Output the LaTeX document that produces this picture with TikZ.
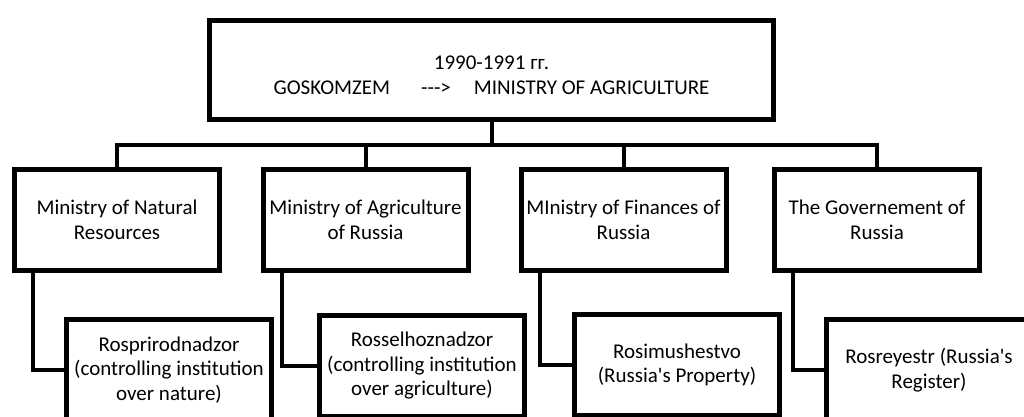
\documentclass[tikz,border=0pt]{standalone}
\usepackage{fontspec}
\setmainfont{Carlito}
\tikzset{
  box/.style={draw, line width=5pt, align=center, inner sep=1pt,
    minimum width=205pt, minimum height=101pt,
    font=\fontsize{21}{24.5}\selectfont},
  link/.style={line width=4pt},
}

\begin{document}
\begin{tikzpicture}[x=1pt,y=-1pt]
\clip (0,0) rectangle (1024,416);
% head of the chart
\node[box, minimum width=564pt, minimum height=99pt] (head) at (491.5,70)
{\rule{0pt}{24pt}1990-1991 гг.\\GOSKOMZEM\hspace{31pt}\mbox{-}\mbox{-}\mbox{-}>\hspace{23pt}MINISTRY OF AGRICULTURE};
% ministries
\node[box] (natres) at (117,220) {Ministry of Natural\\Resources};
\node[box] (agro) at (365.5,220) {Ministry of Agriculture\\of Russia};
\node[box] (fin) at (623.5,220) {MInistry of Finances of\\Russia};
\node[box] (gov) at (877,220) {The Governement of\\Russia};
% agencies
\node[box] (prirod) at (169,370) {Rosprirodnadzor\\(controlling institution\\over nature)};
\node[box] (selhoz) at (422,366) {Rosselhoznadzor\\(controlling institution\\over agriculture)};
\node[box] (imush) at (677,365) {Rosimushestvo\\(Russia\textquotesingle s Property)};
\node[box] (reestr) at (929,370) {Rosreyestr (Russia\textquotesingle s\\Register)};
% tree
\draw[link] (head.south) -- ++(0,23) coordinate (fork);
\draw[link] (natres.north) |- (fork) -| (gov.north);
\draw[link] (agro.north) -- (agro.north |- fork);
\draw[link] (fin.north) -- (fin.north |- fork);
\draw[link] ([xshift=21pt]natres.south west) |- (prirod.west);
\draw[link] ([xshift=21pt]agro.south west) |- (selhoz.west);
\draw[link] ([xshift=21pt]fin.south west) |- (imush.west);
\draw[link] ([xshift=21pt]gov.south west) |- (reestr.west);
\end{tikzpicture}
\end{document}
